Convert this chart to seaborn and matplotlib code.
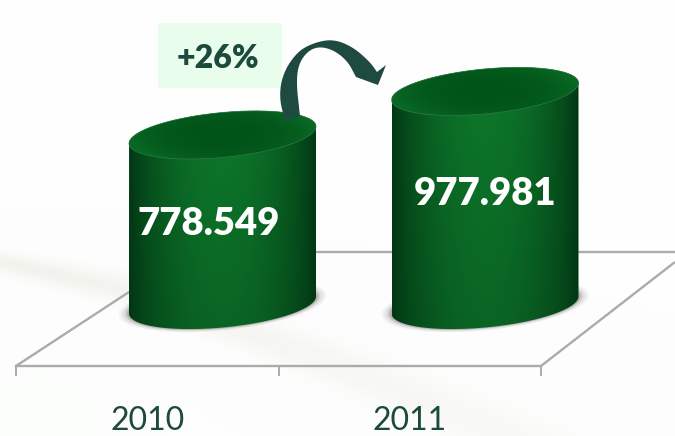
import matplotlib
matplotlib.use("Agg")
import matplotlib.pyplot as plt
import numpy as np
import pandas as pd
import seaborn as sns
from matplotlib.patches import Polygon, Rectangle

years = ["2010", "2011"]
values = [778549, 977981]
change_label = "+26%"

W, H = 675, 436
PX_PER_UNIT = 0.2184 / 1000   # vertical pixels per unit of value
PX_PER_CAT = 262.5
HALF_W = 93.5                 # half width of a cylinder, px
MINOR = 22.5                  # ellipse half height, px
TILT = -17 / 187              # ellipses lean up to the right
BASE_Y = 305

INK = "#1c4a3c"
GRID = "#ababab"

sns.set_theme(style="white")
plt.rcParams["font.family"] = ["Lato", "DejaVu Sans"]


def px_axes(fig, left, top, right, bottom):
    return fig.add_axes([left / W, 1 - bottom / H, (right - left) / W, (bottom - top) / H])


def chaikin(pts, n=3):
    pts = np.asarray(pts, float)
    for _ in range(n):
        q = 0.75 * pts[:-1] + 0.25 * pts[1:]
        r = 0.25 * pts[:-1] + 0.75 * pts[1:]
        pts = np.vstack([pts[0], np.column_stack([q, r]).reshape(-1, 2), pts[-1]])
    return pts


def background():
    # faint swoosh running across the slide
    yy, xx = np.mgrid[0:H, 0:W]
    curve = np.where(xx < 120, 262 + 0.22 * xx, 288 + (xx - 120) * 0.33 + (xx - 120) ** 2 * 0.00012)
    width = 10 + 0.035 * xx
    swoosh = np.exp(-((yy - curve) / width) ** 2)
    swoosh *= np.clip(1.05 - xx / 900, 0, 1)
    img = np.ones((H, W, 3)) * np.array([254, 254, 254])
    img -= swoosh[..., None] * np.array([11, 11, 16])
    corner = np.clip(1 - np.hypot(xx - 40, yy - 436) / 130, 0, 1)
    img -= corner[..., None] * np.array([4, 1, 4])
    return np.clip(img, 0, 255).astype(np.uint8)


fig = plt.figure(figsize=(W / 100, H / 100), dpi=100)

# slide background
bg_ax = px_axes(fig, 0, 0, W, H)
bg_ax.imshow(background(), aspect="auto", extent=(0, W, H, 0))
bg_ax.axis("off")

# floor of the 3D chart with the category axis on its front edge
floor_ax = px_axes(fig, 16, 252, 541, 366)
floor_ax.set_xlim(-0.5, 1.5)
floor_ax.set_ylim(0, 1)
floor_ax.patch.set_alpha(0)
for side in ["top", "left", "right"]:
    floor_ax.spines[side].set_visible(False)
floor_ax.spines["bottom"].set_color(GRID)
floor_ax.spines["bottom"].set_linewidth(1.7)
floor_ax.set_yticks([])
floor_ax.set_xticks(range(len(years)), years, fontsize=23, color=INK)
floor_ax.tick_params(axis="x", which="major", length=0, pad=29)
floor_ax.set_xticks([-0.5, 0.5, 1.5], minor=True)
floor_ax.tick_params(axis="x", which="minor", bottom=True, length=7.5, width=1.4, color=GRID)

# bars, shifted back onto the floor
bar_ax = px_axes(fig, 222.5 - PX_PER_CAT / 2, 0, 222.5 + PX_PER_CAT * 1.5, BASE_Y)
df = pd.DataFrame({"year": years, "value": values})
sns.barplot(data=df, x="year", y="value", width=2 * HALF_W / PX_PER_CAT,
            color="#0a6a26", saturation=1, ax=bar_ax)
bar_ax.set_xlim(-0.5, 1.5)
bar_ax.set_ylim(0, BASE_Y / PX_PER_UNIT)
bar_ax.axis("off")

to_x = 1 / PX_PER_CAT
to_y = 1 / PX_PER_UNIT
t = np.linspace(0, 2 * np.pi, 181)


def ellipse(cx, cy):
    # cx in categories, cy in value units
    x = cx + to_x * HALF_W * np.cos(t)
    y = cy + to_y * (MINOR * np.sin(t) - TILT * HALF_W * np.cos(t))
    return np.column_stack([x, y])


nx = 240
u = np.linspace(-1, 1, nx)
glow = np.clip(1 - np.abs(u) ** 2.0, 0, 1) ** 0.9
edge_col = np.array([2, 54, 20]) / 255
mid_col = np.array([13, 120, 42]) / 255

for patch, val in zip(list(bar_ax.patches), values):
    cx = patch.get_x() + patch.get_width() / 2
    patch.set_visible(False)

    # soft shadow on the floor
    for grow, a in zip([10, 7, 4, 2], [0.05, 0.08, 0.12, 0.18]):
        e = ellipse(cx, 0)
        e[:, 0] = cx + (e[:, 0] - cx) * (HALF_W + grow) / HALF_W
        e[:, 1] = e[:, 1] * (MINOR + grow * 0.3) / MINOR
        bar_ax.add_patch(Polygon(e, closed=True, fc="#303030", ec="none", alpha=a,
                                 clip_on=False, zorder=1))

    # body: side gradient clipped to the cylinder outline
    top = ellipse(cx, val)
    bottom = ellipse(cx, 0)
    lower = bottom[(t >= np.pi)]            # front half of the base
    upper = top[(t < np.pi)]                # back half of the top
    outline = np.vstack([lower, upper])

    ny = 60
    v = np.linspace(0, 1, ny)[:, None]      # 0 at the top
    shade = glow[None, :] * (1 - 0.3 * v)
    body = edge_col[None, None, :] + shade[..., None] * (mid_col - edge_col)[None, None, :]
    pad_y = to_y * 30
    im = bar_ax.imshow(body, aspect="auto", zorder=2, interpolation="bilinear",
                       extent=(cx - to_x * HALF_W, cx + to_x * HALF_W, -pad_y, val + pad_y))
    clip = Polygon(outline, closed=True, transform=bar_ax.transData, fc="none", ec="none", clip_on=False)
    bar_ax.add_patch(clip)
    im.set_clip_box(fig.bbox)   # base ellipse hangs below the axes
    im.set_clip_path(clip)

    # open top: darker inside, lighter at the rim
    yy, xx = np.mgrid[-1:1:80j, -1:1:160j]
    r = np.clip(np.hypot(xx, yy), 0, 1)
    rim = np.array([9, 104, 36]) / 255
    inner = np.array([1, 84, 24]) / 255
    cap_img = inner[None, None, :] + (r ** 3)[..., None] * (rim - inner)[None, None, :]
    cap_h = to_y * (MINOR + 10)
    im2 = bar_ax.imshow(cap_img, aspect="auto", zorder=3, interpolation="bilinear",
                        extent=(cx - to_x * HALF_W, cx + to_x * HALF_W, val - cap_h, val + cap_h))
    cap = Polygon(top, closed=True, transform=bar_ax.transData, fc="none",
                  ec="#2f7a47", lw=0.5, zorder=4, clip_on=False)
    bar_ax.add_patch(cap)
    im2.set_clip_path(cap)

bar_ax.set_xlim(-0.5, 1.5)
bar_ax.set_ylim(0, BASE_Y / PX_PER_UNIT)

# overlay in slide pixels: rest of the floor, callout, arrow, value labels
over = px_axes(fig, 0, 0, W, H)
over.set_xlim(0, W)
over.set_ylim(H, 0)
over.axis("off")
over.patch.set_alpha(0)

floor_kw = dict(color=GRID, lw=1.7, solid_capstyle="butt")
floor_lines = [([16, 129], [366, 292]), ([541, 675], [366, 262])]
for xs, ys in floor_lines:
    bg_ax.plot(xs, ys, **floor_kw)
bg_ax.plot([316, 392], [252, 252], **floor_kw)
bg_ax.plot([578, 675], [252, 252], **floor_kw)
bg_ax.set_xlim(0, W)
bg_ax.set_ylim(H, 0)

over.add_patch(Rectangle((158, 23), 124, 65, fc="#e9fdec", ec="none"))
over.text(218, 59, change_label, fontsize=23, fontweight="heavy", color=INK, ha="center", va="center")

outer = [(285, 121), (279, 97), (283, 73), (297, 52), (313, 43), (333, 39), (353, 47), (370, 62), (377, 72)]
inner = [(356, 77), (347, 60), (330, 48), (313, 47), (300, 60), (296, 80), (300, 116)]
arrow = np.vstack([chaikin(outer), [(386, 65), (378, 85), (356, 77)], chaikin(inner)])
over.add_patch(Polygon(arrow, closed=True, fc="#1e4a40", ec="none"))

label_pos = [(209, 224), (485, 194)]
for val, (lx, ly) in zip(values, label_pos):
    over.text(lx, ly, f"{val:,}".replace(",", "."), fontsize=27.5, fontweight="heavy",
              color="white", ha="center", va="center")

fig.savefig("out.png", dpi=100)
plt.close(fig)
